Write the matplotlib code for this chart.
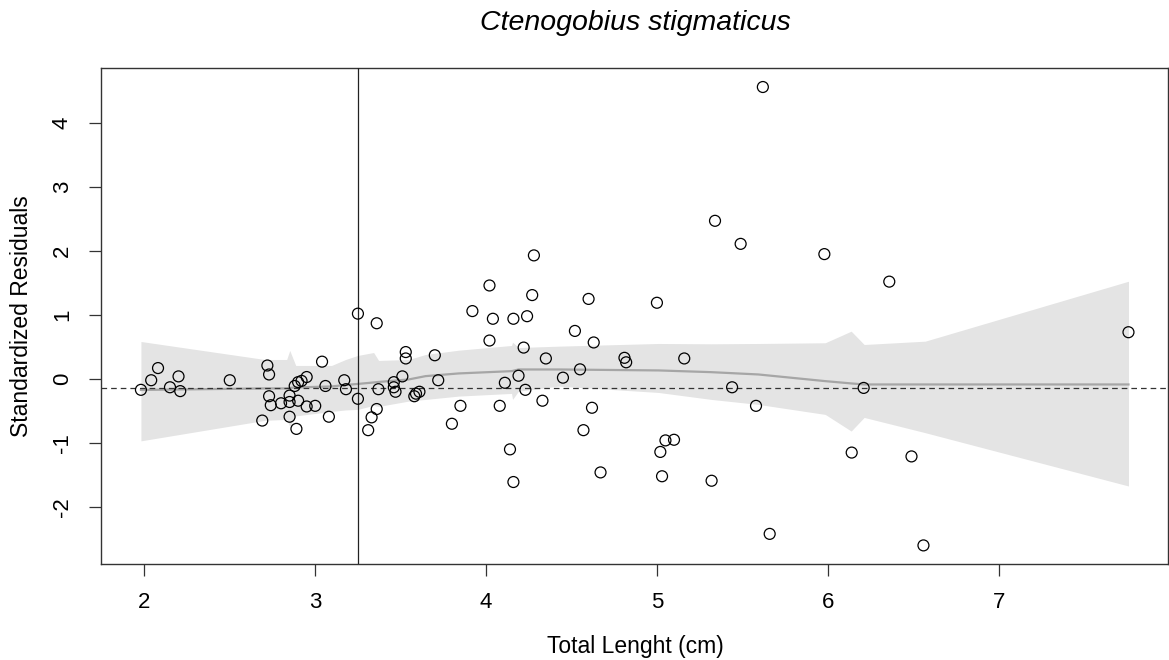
import numpy as np
import matplotlib
matplotlib.use("Agg")
from matplotlib import pyplot as plt

# standardized residuals vs total length
total_length = [
    1.98, 2.04, 2.08, 2.15, 2.20, 2.21, 2.50, 2.69, 2.72, 2.73, 2.73, 2.74,
    2.80, 2.85, 2.85, 2.85, 2.89, 2.88, 2.90, 2.92, 2.90, 2.95, 2.95, 3.00,
    3.04, 3.06, 3.08, 3.17, 3.18, 3.25, 3.25, 3.36, 3.31, 3.33, 3.36, 3.37,
    3.46, 3.46, 3.47, 3.51, 3.53, 3.53, 3.58, 3.59, 3.61, 3.70, 3.72, 3.80,
    3.85, 3.92, 4.02, 4.02, 4.04, 4.08, 4.11, 4.14, 4.16, 4.16, 4.19, 4.22,
    4.23, 4.24, 4.27, 4.28, 4.33, 4.35, 4.45, 4.52, 4.55, 4.57, 4.60, 4.62,
    4.63, 4.67, 4.81, 4.82, 5.00, 5.02, 5.03, 5.05, 5.10, 5.16, 5.32, 5.34,
    5.44, 5.49, 5.58, 5.62, 5.66, 5.98, 6.14, 6.21, 6.36, 6.49, 6.56, 7.76,
]
std_resid = [
    -0.17, -0.02, 0.17, -0.13, 0.04, -0.19, -0.02, -0.65, 0.21, 0.07, -0.27, -0.41,
    -0.38, -0.26, -0.36, -0.59, -0.78, -0.11, -0.05, -0.03, -0.34, 0.03, -0.43, -0.42,
    0.27, -0.11, -0.59, -0.02, -0.16, 1.02, -0.31, 0.87, -0.80, -0.60, -0.47, -0.16,
    -0.05, -0.13, -0.20, 0.04, 0.42, 0.32, -0.27, -0.23, -0.20, 0.37, -0.02, -0.70,
    -0.42, 1.06, 1.46, 0.60, 0.94, -0.42, -0.06, -1.10, 0.94, -1.61, 0.05, 0.49,
    -0.17, 0.98, 1.31, 1.93, -0.34, 0.32, 0.02, 0.75, 0.15, -0.80, 1.25, -0.45,
    0.57, -1.46, 0.33, 0.26, 1.19, -1.14, -1.52, -0.96, -0.95, 0.32, -1.59, 2.47,
    -0.13, 2.11, -0.42, 4.56, -2.42, 1.95, -1.15, -0.14, 1.52, -1.21, -2.60, 0.73,
]

# smoother and its confidence band
smooth_x = [1.98, 2.705, 2.833, 2.851, 2.886, 3.096, 3.178, 3.249, 3.342, 3.371,
            3.547, 3.646, 3.839, 4.149, 4.155, 4.190, 4.424, 5.009, 5.319, 5.594,
            5.985, 6.137, 6.213, 6.570, 7.76]
smooth_fit = [-0.172, -0.148, -0.148, -0.140, -0.133, -0.117, -0.094, -0.078, -0.055, -0.047,
              -0.008, 0.044, 0.086, 0.122, 0.125, 0.148, 0.148, 0.133, 0.106, 0.070,
              -0.034, -0.070, -0.086, -0.086, -0.086]
band_upper = [0.585, 0.304, 0.304, 0.445, 0.211, 0.211, 0.304, 0.367, 0.413, 0.289,
              0.304, 0.382, 0.449, 0.523, 0.574, 0.491, 0.512, 0.554, 0.549, 0.554,
              0.565, 0.746, 0.538, 0.590, 1.526]
band_lower = [-0.967, -0.647, -0.632, -0.741, -0.577, -0.507, -0.484, -0.476, -0.413, -0.429,
              -0.346, -0.320, -0.268, -0.226, -0.320, -0.190, -0.112, -0.211, -0.320, -0.398,
              -0.554, -0.814, -0.601, -0.839, -1.672]

mean_resid = -0.135
cutoff_length = 3.25

plt.rcParams['font.family'] = ['Liberation Sans', 'DejaVu Sans']
plt.rcParams['axes.unicode_minus'] = False

fig = plt.figure(figsize=(11.69, 6.6), dpi=100)
ax = fig.add_axes([0.0868, 0.1455, 0.9123, 0.7508])

ax.fill_between(smooth_x, band_lower, band_upper, color='#e4e4e4', lw=0, zorder=1)
ax.plot(smooth_x, smooth_fit, color='#a6a6a6', lw=1.6, zorder=2)
ax.axhline(mean_resid, color='#333333', lw=0.9, dashes=(4.5, 3.2), zorder=3)
ax.axvline(cutoff_length, color='#222222', lw=0.9, zorder=3)
ax.scatter(total_length, std_resid, s=62, facecolors='none', edgecolors='black',
           linewidths=0.9, zorder=4)

ax.set_xlim(1.749, 7.991)
ax.set_ylim(-2.89, 4.85)
ax.set_xticks([2, 3, 4, 5, 6, 7])
ax.set_yticks([-2, -1, 0, 1, 2, 3, 4])
ax.tick_params(axis='both', length=8.5, width=0.9, color='#333333', labelsize=16, pad=12)
for lab in ax.get_yticklabels():
    lab.set_rotation(90)
    lab.set_va('center')
for sp in ax.spines.values():
    sp.set_color('#333333')
    sp.set_linewidth(1.0)

fig.text(0.5432, 1 - 30 / 660, 'Ctenogobius stigmaticus', style='italic',
         fontsize=20.5, ha='center', va='baseline')
fig.text(0.5432, 1 - 647 / 660, 'Total Lenght (cm)', fontsize=16.5, ha='center', va='center')
fig.text(22 / 1169, 1 - 316 / 660, 'Standardized Residuals', fontsize=16.5, rotation=90,
         ha='center', va='center')

fig.savefig('out.png', dpi=100)
